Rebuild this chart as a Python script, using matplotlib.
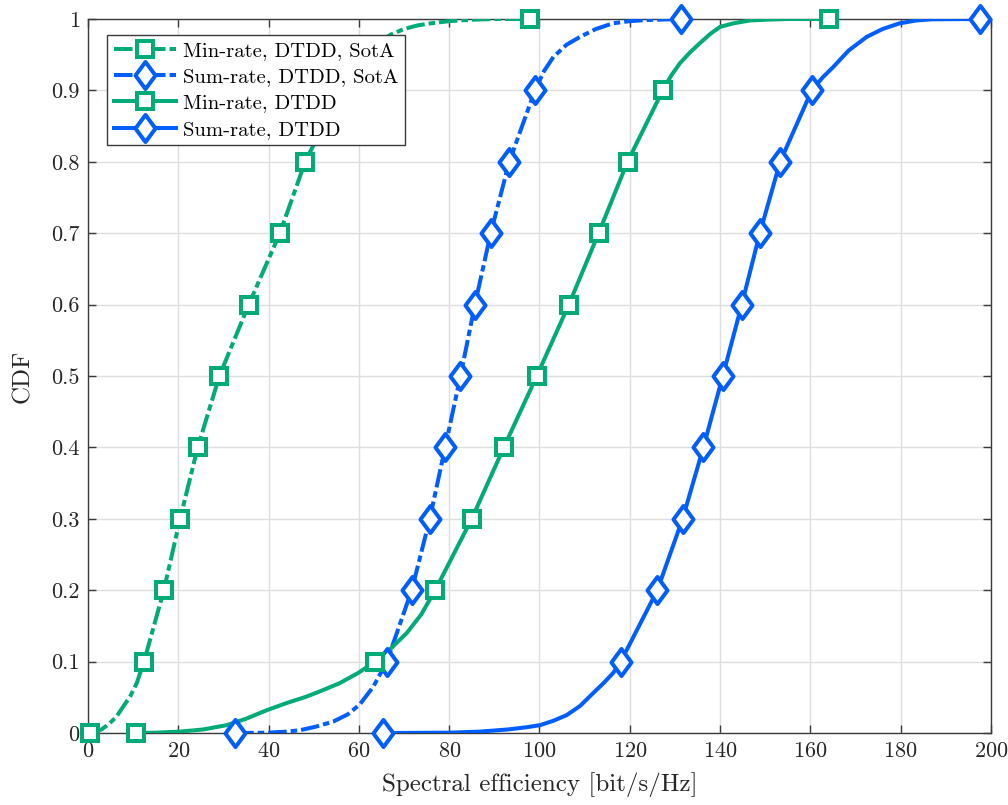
import numpy as np
import matplotlib
matplotlib.use("Agg")
import matplotlib.pyplot as plt
from matplotlib.path import Path

plt.rcParams["font.family"] = ["cmr10", "DejaVu Serif"]
plt.rcParams["axes.formatter.use_mathtext"] = True
plt.rcParams["mathtext.fontset"] = "cm"

# CDF levels at which the markers sit
marker_levels = [0.0, 0.1, 0.2, 0.3, 0.4, 0.5, 0.6, 0.7, 0.8, 0.9, 1.0]

# Marker positions (spectral efficiency at each CDF level)
min_sota_mk = [0.5, 12.4, 16.8, 20.4, 24.3, 29.1, 35.6, 42.5, 48.1, 56.0, 97.9]
sum_sota_mk = [32.6, 66.2, 71.7, 75.7, 79.1, 82.5, 85.7, 89.2, 93.3, 99.0, 131.3]
min_dtdd_mk = [10.6, 63.6, 76.9, 85.0, 92.1, 99.4, 106.5, 113.1, 119.5, 127.3, 164.2]
sum_dtdd_mk = [65.4, 118.0, 126.1, 131.7, 136.3, 140.6, 144.8, 148.8, 153.3, 160.3, 197.6]

# Empirical CDF traces
min_sota_x = [0.5, 3.0, 4.5, 6.2, 7.8, 9.4, 10.8, 12.4, 16.8, 20.4, 24.3, 29.1, 35.6,
              42.5, 48.1, 56.0, 60.0, 63.5, 67.0, 70.0, 73.0, 76.0, 80.0, 85.0, 90.0, 97.9]
min_sota_F = [0.0, 0.005, 0.012, 0.022, 0.037, 0.052, 0.07, 0.1, 0.2, 0.3, 0.4, 0.5, 0.6,
              0.7, 0.8, 0.9, 0.94, 0.963, 0.978, 0.986, 0.991, 0.994, 0.997, 0.999, 1.0, 1.0]

sum_sota_x = [32.6, 40.0, 44.0, 47.0, 50.5, 54.3, 57.5, 60.2, 63.2, 66.2, 71.7, 75.7,
              79.1, 82.5, 85.7, 89.2, 93.3, 99.0, 101.0, 103.1, 106.0, 109.0, 112.5,
              116.3, 120.0, 123.7, 131.3]
sum_sota_F = [0.0, 0.0005, 0.002, 0.004, 0.009, 0.016, 0.026, 0.04, 0.065, 0.1, 0.2, 0.3,
              0.4, 0.5, 0.6, 0.7, 0.8, 0.9, 0.927, 0.947, 0.964, 0.975, 0.986,
              0.994, 0.997, 0.9986, 1.0]

min_dtdd_x = [10.6, 15.0, 20.4, 25.5, 30.7, 35.0, 39.6, 44.0, 48.4, 52.0, 55.8, 59.8,
              63.6, 67.0, 70.6, 73.8, 76.9, 85.0, 92.1, 99.4, 106.5, 113.1, 119.5, 127.3,
              129.2, 131.1, 133.3, 135.5, 137.8, 140.0, 143.0, 146.6, 150.0, 155.0, 164.2]
min_dtdd_F = [0.0, 0.0005, 0.002, 0.005, 0.011, 0.02, 0.032, 0.042, 0.051, 0.06, 0.07,
              0.084, 0.1, 0.118, 0.14, 0.166, 0.2, 0.3, 0.4, 0.5, 0.6, 0.7, 0.8, 0.9,
              0.921, 0.938, 0.953, 0.966, 0.979, 0.989, 0.994, 0.998, 0.999, 1.0, 1.0]

sum_dtdd_x = [65.4, 80.0, 86.8, 93.0, 97.0, 100.1, 103.0, 106.0, 109.0, 111.9, 114.2,
              116.3, 118.0, 126.1, 131.7, 136.3, 140.6, 144.8, 148.8, 153.3, 160.3,
              162.7, 165.1, 168.5, 172.5, 176.0, 179.8, 183.5, 187.0, 197.6]
sum_dtdd_F = [0.0, 0.0005, 0.002, 0.005, 0.008, 0.011, 0.017, 0.025, 0.038, 0.056, 0.07,
              0.084, 0.1, 0.2, 0.3, 0.4, 0.5, 0.6, 0.7, 0.8, 0.9,
              0.918, 0.933, 0.956, 0.975, 0.986, 0.994, 0.998, 0.9996, 1.0]

labels = ["Min-rate, DTDD, SotA", "Sum-rate, DTDD, SotA", "Min-rate, DTDD", "Sum-rate, DTDD"]

x_ticks = [0, 20, 40, 60, 80, 100, 120, 140, 160, 180, 200]
y_ticks = [0, 0.1, 0.2, 0.3, 0.4, 0.5, 0.6, 0.7, 0.8, 0.9, 1.0]
y_tick_labels = ["0", "0.1", "0.2", "0.3", "0.4", "0.5", "0.6", "0.7", "0.8", "0.9", "1"]

GREEN = "#00ab78"
BLUE = "#005eff"

diamond = Path([(0, 1), (0.74, 0), (0, -1), (-0.74, 0), (0, 1)],
               [Path.MOVETO, Path.LINETO, Path.LINETO, Path.LINETO, Path.CLOSEPOLY])

fig = plt.figure(figsize=(10.08, 8.05), dpi=100)
ax = fig.add_axes([0.0873, 0.0894, 0.8958, 0.887])

dash = (0, (4.6, 1.0, 1.6, 1.0))
lw = 2.9
mew = 2.9
series = [
    (min_sota_x, min_sota_F, min_sota_mk, GREEN, dash, "s", 12),
    (sum_sota_x, sum_sota_F, sum_sota_mk, BLUE, dash, diamond, 19.5),
    (min_dtdd_x, min_dtdd_F, min_dtdd_mk, GREEN, "-", "s", 12),
    (sum_dtdd_x, sum_dtdd_F, sum_dtdd_mk, BLUE, "-", diamond, 19.5),
]

handles = []
for (xs, fs, mk, col, ls, m, ms), lab in zip(series, labels):
    ax.plot(xs, fs, color=col, lw=lw, ls=ls, zorder=3, solid_joinstyle="round")
    ax.plot(mk, marker_levels, ls="none", marker=m, ms=ms, mfc="white",
            mec=col, mew=mew, zorder=4, clip_on=False)
    h, = ax.plot([], [], color=col, lw=lw, ls=ls, marker=m, ms=ms, mfc="white",
                 mec=col, mew=mew)
    handles.append(h)

ax.set_xlim(0, 200)
ax.set_ylim(0, 1)
ax.set_xticks(x_ticks)
ax.set_yticks(y_ticks)
ax.set_yticklabels(y_tick_labels)
ax.grid(True, color="#dedede", lw=1.0)
ax.set_axisbelow(True)
for s in ax.spines.values():
    s.set_color("#3a3a3a")
    s.set_linewidth(1.0)
ax.tick_params(direction="in", length=6, width=1.0, color="#3a3a3a",
               top=True, right=True, labelsize=16, labelcolor="#262626", pad=6)

ax.set_xlabel("Spectral efficiency [bit/s/Hz]", fontsize=18, color="#262626", labelpad=8)
ax.set_ylabel("CDF", fontsize=18, color="#262626", labelpad=12)

leg = ax.legend(handles, labels, loc="upper left", bbox_to_anchor=(0.021, 0.978),
                fontsize=14.9, frameon=True, fancybox=False, framealpha=1.0,
                edgecolor="#3a3a3a", handlelength=3.0, handletextpad=0.35,
                labelspacing=0.38, borderpad=0.32, borderaxespad=0.0)
leg.get_frame().set_linewidth(1.0)
leg.set_zorder(10)

fig.savefig("out.png", dpi=100, facecolor="white")
